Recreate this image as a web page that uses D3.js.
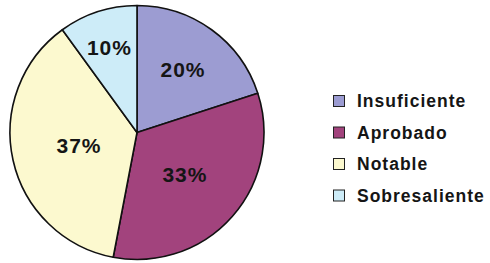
<!DOCTYPE html>
<html>
<head>
<meta charset="utf-8">
<script src="https://cdn.jsdelivr.net/npm/d3@7"></script>
<style>
  body { margin: 0; background: #fff; }
  svg { display: block; }
</style>
</head>
<body>
<div id="chart"></div>
<script>
var categories = ["Insuficiente", "Aprobado", "Notable", "Sobresaliente"];
var values = [20, 33, 37, 10];
var colors = ["#9c9cd2", "#a2437d", "#fcf9cf", "#cdecf8"];

var width = 490,
    height = 263;
var cx = 137, cy = 132.5, radius = 127;

var svg = d3.select("#chart")
  .append("svg")
  .attr("width", width)
  .attr("height", height);

var g = svg.append("g")
  .attr("transform", "translate(" + cx + "," + cy + ")");

var pie = d3.pie().sort(null).value(function (d) { return d; });
var arcs = pie(values);

var arc = d3.arc().innerRadius(0).outerRadius(radius);

g.selectAll("path.slice")
  .data(arcs)
  .enter().append("path")
  .attr("class", "slice")
  .attr("d", arc)
  .attr("fill", function (d, i) { return colors[i]; })
  .attr("stroke", "#111")
  .attr("stroke-width", 1.6)
  .attr("stroke-linejoin", "round");

// labels sit further out in small slices, closer in for big ones
function labelPos(d) {
  var r = radius * (0.79 - 0.0087 * d.value);
  var a = (d.startAngle + d.endAngle) / 2;
  return [r * Math.sin(a), -r * Math.cos(a)];
}

g.selectAll("text.pct")
  .data(arcs)
  .enter().append("text")
  .attr("class", "pct")
  .attr("x", function (d) { return labelPos(d)[0]; })
  .attr("y", function (d) { return labelPos(d)[1]; })
  .attr("text-anchor", "middle")
  .attr("dy", "0.36em")
  .attr("fill", "#151515")
  .style("font-family", "'Liberation Sans', Arial, sans-serif")
  .style("font-weight", "bold")
  .style("font-size", "21px")
  .style("letter-spacing", "1px")
  .text(function (d) { return d.value + "%"; });

var legend = svg.append("g")
  .attr("transform", "translate(333,101)");

var item = legend.selectAll("g.item")
  .data(categories)
  .enter().append("g")
  .attr("class", "item")
  .attr("transform", function (d, i) { return "translate(0," + (i * 31.5) + ")"; });

item.append("rect")
  .attr("x", 0.5)
  .attr("y", -5.5)
  .attr("width", 11)
  .attr("height", 11)
  .attr("fill", function (d, i) { return colors[i]; })
  .attr("stroke", "#222")
  .attr("stroke-width", 1);

item.append("text")
  .attr("x", 24)
  .attr("y", 0)
  .attr("dy", "0.36em")
  .attr("fill", "#151515")
  .style("font-family", "'Liberation Sans', Arial, sans-serif")
  .style("font-weight", "bold")
  .style("font-size", "17.5px")
  .style("letter-spacing", "1px")
  .text(function (d) { return d; });
</script>
</body>
</html>
